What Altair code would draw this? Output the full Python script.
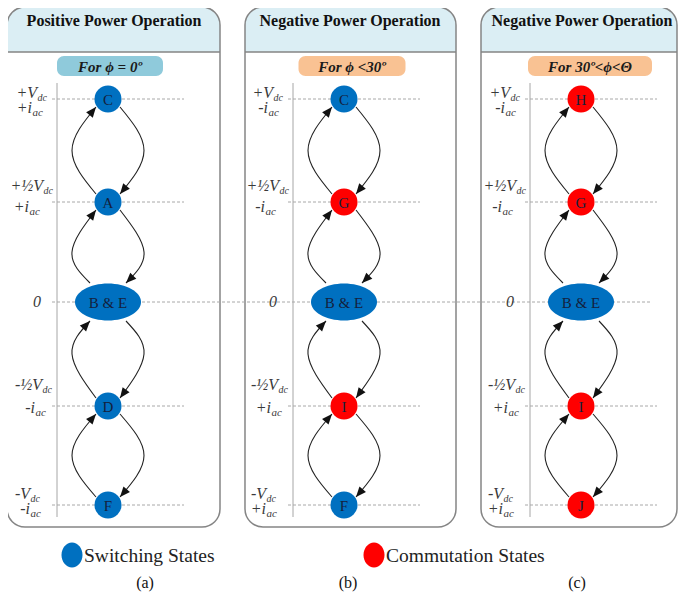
import math
import altair as alt
import pandas as pd

# ---------------- content ----------------
panel_titles = ["Positive Power Operation", "Negative Power Operation", "Negative Power Operation"]
panel_conditions = ["For ϕ = 0º", "For ϕ <30º", "For 30º<ϕ<Θ"]
condition_colors = ["#8fcadb", "#f9c293", "#f9c293"]
panel_tags = ["(a)", "(b)", "(c)"]

levels = [1.0, 0.5, 0.0, -0.5, -1.0]
voltage_labels = ["+V", "+½V", "0", "-½V", "-V"]
current_signs = [["+", "+", "", "-", "-"],
                 ["-", "-", "", "+", "+"],
                 ["-", "-", "", "+", "+"]]
state_names = [["C", "A", "B & E", "D", "F"],
               ["C", "G", "B & E", "I", "F"],
               ["H", "G", "B & E", "I", "J"]]
state_kind = [["S", "S", "S", "S", "S"],
              ["S", "C", "S", "C", "S"],
              ["C", "C", "S", "C", "C"]]
kind_color = {"S": "#0070c0", "C": "#ff0000"}
legend_kinds = ["S", "C"]
legend_labels = ["Switching States", "Commutation States"]

# ---------------- layout (pixels) ----------------
axis_x = [57, 293, 530]
panel_x0 = [7, 245, 481]
panel_x1 = [220, 456, 677]
panel_top, header_bottom, panel_bottom = 7, 52, 527
row_y = [99, 202, 302, 406, 505]
node_dx = 51
title_dx = [57, 57, 52]
cond_cx_dx = [53, 59, 60]
cond_w = [106, 107, 124]
cond_y0, cond_y1 = 56, 76
v_dy = {0: -1, 1: -11, 3: -16, 4: -6}
i_dy = {0: 14, 1: 10, 3: 7, 4: 9}
v_dx = {0: -20, 1: -14, 3: -15, 4: -27}
i_dx = {0: -25, 1: -28, 3: -22, 4: -27}
circ_off = (12, 8)
ell_off = (18, 19)
bulge = 36
legend_x = [72, 374]
legend_y = 555
tag_x = [145, 348, 577]
tag_y = 588

xs = alt.Scale(domain=[8, 678], nice=False, zero=False)
ys = alt.Scale(domain=[8, 592], nice=False, zero=False, reverse=True)


def X(f):
    return alt.X(f, type="quantitative", scale=xs, axis=None)


def Y(f):
    return alt.Y(f, type="quantitative", scale=ys, axis=None)


serif = "Liberation Serif"

# ---------------- frames ----------------
panels = pd.DataFrame({"x0": panel_x0, "x1": panel_x1,
                       "y0": [panel_top] * 3, "y1": [panel_bottom] * 3,
                       "yh": [header_bottom] * 3})
titles = pd.DataFrame({"x": [a + d for a, d in zip(axis_x, title_dx)],
                       "y": [26] * 3, "text": panel_titles})
conds = pd.DataFrame({"x0": [a + d - w / 2 for a, d, w in zip(axis_x, cond_cx_dx, cond_w)],
                      "x1": [a + d + w / 2 for a, d, w in zip(axis_x, cond_cx_dx, cond_w)],
                      "xc": [a + d for a, d in zip(axis_x, cond_cx_dx)],
                      "y0": [cond_y0] * 3, "y1": [cond_y1] * 3, "yt": [71.5] * 3,
                      "color": condition_colors, "text": panel_conditions})
axes = pd.DataFrame({"x": axis_x, "y0": [83] * 3, "y1": [517] * 3})

dash_rows = []
for p in range(3):
    for i, lv in enumerate(levels):
        if lv != 0:
            dash_rows.append({"x0": axis_x[p] - 5, "x1": axis_x[p] + node_dx + 76, "y": row_y[i]})
dash_rows.append({"x0": axis_x[0] - 5, "x1": axis_x[2] + node_dx + 70, "y": row_y[2]})
dashes = pd.DataFrame(dash_rows)

node_rows, arc_rows, arrow_rows = [], [], []
main_rows, sub_rows, zero_rows = [], [], []
for p in range(3):
    xc = axis_x[p] + node_dx
    for i, lv in enumerate(levels):
        node_rows.append({"x": xc, "y": row_y[i], "name": state_names[p][i],
                          "color": kind_color[state_kind[p][i]],
                          "big": state_names[p][i] == "B & E"})
        if lv == 0:
            zero_rows.append({"x": axis_x[p] - 20, "y": row_y[i] + 5, "text": "0"})
        else:
            main_rows.append({"x": axis_x[p] + v_dx[i], "y": row_y[i] + v_dy[i], "text": voltage_labels[i]})
            sub_rows.append({"x": axis_x[p] + v_dx[i] + 0.5, "y": row_y[i] + v_dy[i] + 3, "text": "dc", "fs": 10})
            main_rows.append({"x": axis_x[p] + i_dx[i], "y": row_y[i] + i_dy[i], "text": current_signs[p][i] + "i"})
            sub_rows.append({"x": axis_x[p] + i_dx[i] + 0.5, "y": row_y[i] + i_dy[i] + 3, "text": "ac", "fs": 11})
    for i in range(4):
        yU, yL = row_y[i], row_y[i + 1]
        oU = ell_off if state_names[p][i] == "B & E" else circ_off
        oL = ell_off if state_names[p][i + 1] == "B & E" else circ_off
        ym = (yU + yL) / 2
        arcs = {
            "L": [(xc - oL[0], yL - oL[1]), (xc - bulge, ym), (xc - oU[0], yU + oU[1])],
            "R": [(xc + oU[0], yU + oU[1]), (xc + bulge, ym), (xc + oL[0], yL - oL[1])],
        }
        for side, pts in arcs.items():
            aid = f"{p}-{i}-{side}"
            for s, (px, py) in enumerate(pts):
                arc_rows.append({"arc": aid, "seq": s, "x": px, "y": py})
            (x0, y0), (x1, y1), (x2, y2) = pts
            tx = (x2 - x1) + 0.25 * (x0 - 2 * x1 + x2)
            ty = (y2 - y1) + 0.25 * (y0 - 2 * y1 + y2)
            ang = math.degrees(math.atan2(tx, -ty)) % 360
            arrow_rows.append({"x": x2, "y": y2, "angle": ang})

nodes = pd.DataFrame(node_rows)
arcs_df = pd.DataFrame(arc_rows)
arrows = pd.DataFrame(arrow_rows)
mains = pd.DataFrame(main_rows)
subs = pd.DataFrame(sub_rows)
zeros = pd.DataFrame(zero_rows)
legend = pd.DataFrame({"x": legend_x, "y": [legend_y] * 2,
                       "tx": [x + 12 for x in legend_x],
                       "color": [kind_color[k] for k in legend_kinds],
                       "text": legend_labels})
tags = pd.DataFrame({"x": tag_x, "y": [tag_y] * 3, "text": panel_tags})

# ---------------- layers ----------------
grey = "#858585"
layers = [
    alt.Chart(panels).mark_rect(cornerRadiusTopLeft=18, cornerRadiusTopRight=18, fill="#dbeef4")
    .encode(x=X("x0"), x2="x1", y=Y("y0"), y2="yh"),
    alt.Chart(panels).mark_rect(cornerRadius=18, fillOpacity=0, stroke=grey, strokeWidth=1.5)
    .encode(x=X("x0"), x2="x1", y=Y("y0"), y2="y1"),
    alt.Chart(panels).mark_rule(stroke=grey, strokeWidth=1.3)
    .encode(x=X("x0"), x2="x1", y=Y("yh")),
    alt.Chart(titles).mark_text(font=serif, fontWeight="bold", fontSize=16, color="#111", baseline="alphabetic")
    .encode(x=X("x"), y=Y("y"), text="text:N"),
    alt.Chart(conds).mark_rect(cornerRadius=7)
    .encode(x=X("x0"), x2="x1", y=Y("y0"), y2="y1", color=alt.Color("color:N", scale=None)),
    alt.Chart(conds).mark_text(font=serif, fontWeight="bold", fontStyle="italic", fontSize=15, color="#1a1a1a", baseline="alphabetic")
    .encode(x=X("xc"), y=Y("yt"), text="text:N"),
    alt.Chart(axes).mark_rule(stroke="#a6a6a6", strokeWidth=1)
    .encode(x=X("x"), y=Y("y0"), y2="y1"),
    alt.Chart(dashes).mark_rule(stroke="#a8a8a8", strokeWidth=1, strokeDash=[3, 2])
    .encode(x=X("x0"), x2="x1", y=Y("y")),
    alt.Chart(arcs_df).mark_line(interpolate="natural", stroke="#222", strokeWidth=1.1)
    .encode(x=X("x"), y=Y("y"), detail="arc:N", order="seq:Q"),
    alt.Chart(arrows).mark_point(shape="M0,0L0.42,1L-0.42,1Z", filled=True, color="#111", size=420, opacity=1, strokeWidth=0)
    .encode(x=X("x"), y=Y("y"), angle=alt.Angle("angle:Q", scale=None)),
    alt.Chart(nodes).transform_filter("!datum.big").mark_point(shape="circle", filled=True, size=729, opacity=1)
    .encode(x=X("x"), y=Y("y"), color=alt.Color("color:N", scale=None)),
    alt.Chart(nodes).transform_filter("datum.big").mark_point(
        shape="M-1,0A1,0.56,0,1,1,1,0A1,0.56,0,1,1,-1,0Z", filled=True, size=4356, opacity=1)
    .encode(x=X("x"), y=Y("y"), color=alt.Color("color:N", scale=None)),
    alt.Chart(nodes).mark_text(font=serif, fontSize=15, color="#14213d", baseline="middle", dy=1)
    .encode(x=X("x"), y=Y("y"), text="name:N"),
    alt.Chart(mains).mark_text(font=serif, fontStyle="italic", fontSize=16, color="#3a3a3a", align="right", baseline="alphabetic")
    .encode(x=X("x"), y=Y("y"), text="text:N"),
    alt.Chart(subs).mark_text(font=serif, fontStyle="italic", color="#3a3a3a", align="left", baseline="alphabetic")
    .encode(x=X("x"), y=Y("y"), text="text:N", size=alt.Size("fs:Q", scale=None)),
    alt.Chart(zeros).mark_text(font=serif, fontStyle="italic", fontSize=16, color="#3a3a3a", baseline="alphabetic")
    .encode(x=X("x"), y=Y("y"), text="text:N"),
    alt.Chart(legend).mark_point(shape="M-0.84,0A0.84,1,0,1,1,0.84,0A0.84,1,0,1,1,-0.84,0Z", filled=True, size=625, opacity=1)
    .encode(x=X("x"), y=Y("y"), color=alt.Color("color:N", scale=None)),
    alt.Chart(legend).mark_text(font=serif, fontSize=19.5, color="#222", align="left", baseline="middle", dy=1)
    .encode(x=X("tx"), y=Y("y"), text="text:N"),
    alt.Chart(tags).mark_text(font=serif, fontSize=16, color="#111", baseline="alphabetic")
    .encode(x=X("x"), y=Y("y"), text="text:N"),
]

chart = (
    alt.layer(*layers)
    .properties(width=670, height=584, padding=0, autosize=alt.AutoSizeParams(type="none"))
    .configure_view(stroke=None)
)

chart.save("out.html", embed_options={"renderer": "svg", "actions": False})
